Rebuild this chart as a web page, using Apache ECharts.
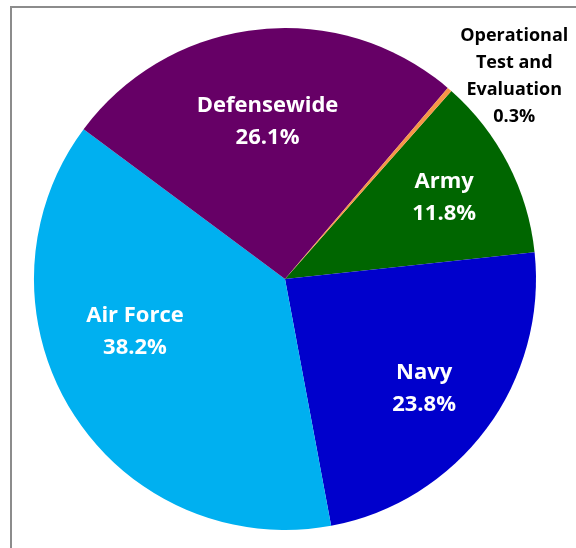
<!DOCTYPE html>
<html>
<head>
<meta charset="utf-8">
<script src="https://cdn.jsdelivr.net/npm/echarts@6/dist/echarts.min.js"></script>
<style>html,body{margin:0;padding:0;background:#fff;}#c{width:576px;height:548px;}</style>
</head>
<body>
<div id="c"></div>
<script>
const categories = ['Army', 'Navy', 'Air Force', 'Defensewide', 'Operational\nTest and\nEvaluation'];
const values = [11.8, 23.8, 38.2, 26.1, 0.3];
const colors = ['#006600', '#0000CC', '#00B0F0', '#660066', '#F79646'];
const labelOffsets = [[45, -22], [36, 33], [-41, -15], [-3, -30], [145, -106]];

const chart = echarts.init(document.getElementById('c'), null, {renderer: 'canvas'});
const data = categories.map((name, i) => {
  const isSmall = i === 4;
  return {
    name: name,
    value: values[i],
    itemStyle: {color: colors[i]},
    label: {
      offset: labelOffsets[i],
      color: isSmall ? '#000' : '#fff',
      fontSize: isSmall ? 18 : 22,
      lineHeight: isSmall ? 27 : 32
    }
  };
});
chart.setOption({
  animation: false,
  graphic: [{
    type: 'rect',
    shape: {x: 11, y: 7, width: 800, height: 800},
    style: {fill: 'none', stroke: '#8c8c8c', lineWidth: 2},
    silent: true,
    z: -10
  }],
  series: [{
    type: 'pie',
    center: [285, 279],
    radius: 251,
    startAngle: 48.5,
    clockwise: true,
    avoidLabelOverlap: false,
    itemStyle: {borderWidth: 0},
    label: {
      show: true,
      position: 'inside',
      fontFamily: 'Open Sans',
      fontWeight: 'bold',
      align: 'center',
      formatter: p => p.name + '\n' + p.value.toFixed(1) + '%'
    },
    labelLine: {show: false},
    emphasis: {disabled: true},
    data: data
  }]
});
</script>
</body>
</html>
